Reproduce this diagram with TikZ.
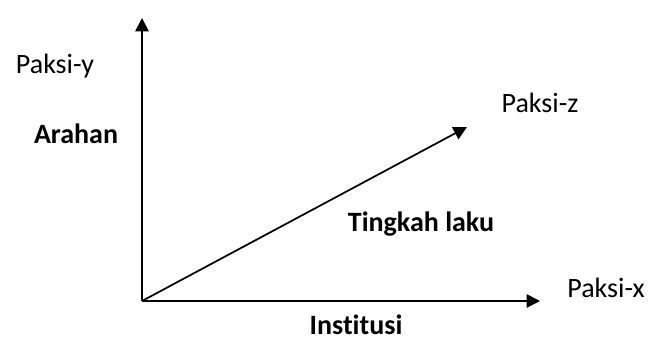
\documentclass[tikz,border=0pt]{standalone}
\usepackage{fontspec}
\setmainfont[Ligatures=NoCommon]{Carlito}
\usetikzlibrary{arrows.meta}
\tikzset{
    axis/.style={line width=1.3pt,-{Triangle[length=10pt,width=10pt]}},
    lbl/.style={inner sep=0pt,font=\fontsize{21}{25}\selectfont},
    blbl/.style={lbl,font=\fontsize{21}{25}\selectfont\bfseries}
}
\begin{document}
\begin{tikzpicture}[x=0.75pt,y=-0.75pt]
    \useasboundingbox (0,0) rectangle (648,341);
    \coordinate (o) at (142,301);
    \coordinate (ytip) at (142,18);
    \coordinate (xtip) at (540,301);
    \coordinate (ztip) at (467,127);

    \draw[axis] (o)--(ytip);
    \draw[axis] (o)--(xtip);
    \draw[axis] (o)--(ztip);

    \node[lbl] (py) at (55,66) {Paksi-y};
    \node[blbl] (arahan) at (76,134) {Arahan};
    \node[lbl] (pz) at (540,103) {Paksi-z};
    \node[blbl] (tingkah) at (421,224) {Tingkah laku};
    \node[lbl] (px) at (606,288) {Paksi-x};
    \node[blbl] (inst) at (356,325) {Institusi};
\end{tikzpicture}
\end{document}
